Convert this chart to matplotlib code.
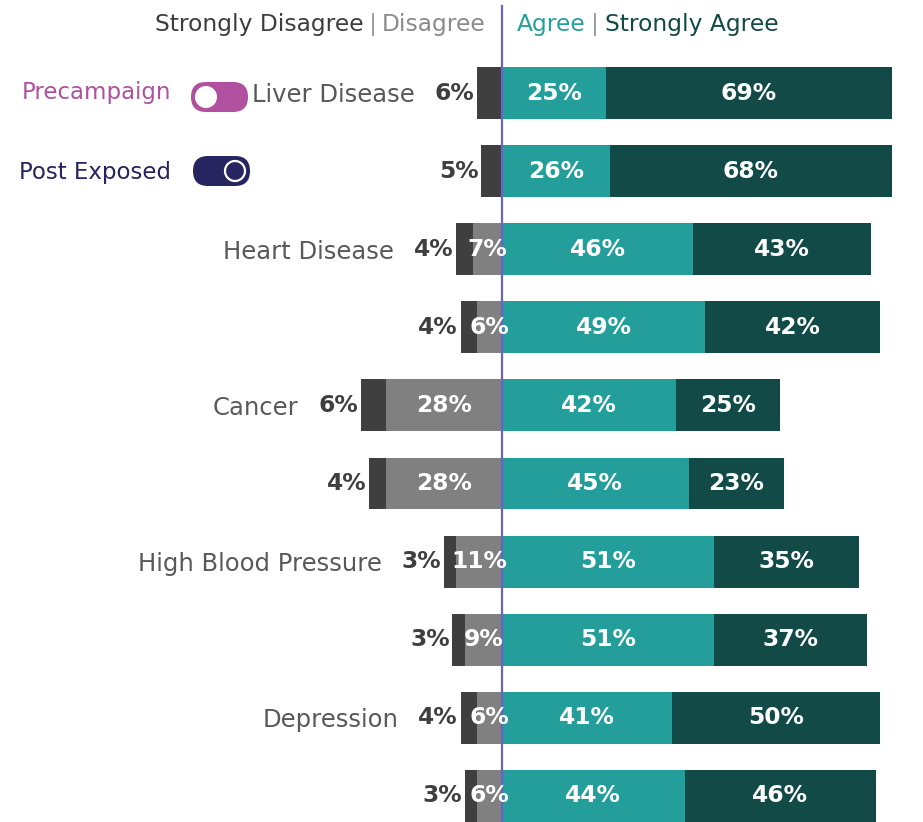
import matplotlib.pyplot as plt
from matplotlib.patches import FancyBboxPatch, Circle

plt.rcParams['font.family'] = ['DejaVu Sans']

# data: two rows per topic (precampaign, post exposed)
categories = ["Liver Disease", "Heart Disease", "Cancer", "High Blood Pressure", "Depression"]
groups = ["Precampaign", "Post Exposed"]
strongly_disagree = [6, 5, 4, 4, 6, 4, 3, 3, 4, 3]
disagree = [0, 0, 7, 6, 28, 28, 11, 9, 6, 6]
agree = [25, 26, 46, 49, 42, 45, 51, 51, 41, 44]
strongly_agree = [69, 68, 43, 42, 25, 23, 35, 37, 50, 46]

c_sd = '#3f3f3f'
c_d = '#808080'
c_a = '#239e9b'
c_sa = '#124a47'
c_pre = '#b0509e'
c_post = '#262560'
c_line = '#6a62c4'

W, H = 923, 822
fig = plt.figure(figsize=(W / 100, H / 100), dpi=100)
ax = fig.add_axes([0, 0, 1, 1])

# scale: 4.15 px per percent, zero at x=502px; rows 78 px apart starting at 93px
ppu = 4.15
x0 = 502
row_h = 78.1
ax.set_xlim(-x0 / ppu, (W - x0) / ppu)
ax.set_ylim((H - 93) / row_h, -93 / row_h)
ax.axis('off')

y = list(range(len(agree)))
bh = 0.665
left_sd = [-(s + d) for s, d in zip(strongly_disagree, disagree)]
left_d = [-d for d in disagree]

ax.barh(y, strongly_disagree, left=left_sd, height=bh, color=c_sd)
ax.barh(y, disagree, left=left_d, height=bh, color=c_d)
ax.barh(y, agree, left=0, height=bh, color=c_a)
ax.barh(y, strongly_agree, left=agree, height=bh, color=c_sa)

ax.axvline(0, ymin=0, ymax=1 - 6 / H, color=c_line, lw=1.6, zorder=5)

lab = dict(fontsize=16.8, fontweight='bold', va='center')
for i in y:
    sd, d, a, sa = strongly_disagree[i], disagree[i], agree[i], strongly_agree[i]
    ax.text(-(sd + d) - 0.6, i, f"{sd}%", ha='right', color=c_sd, **lab)
    if d > 0:
        ax.text(-d / 2, i, f"{d}%", ha='center', color='white', zorder=6, **lab)
    ax.text(a / 2, i, f"{a}%", ha='center', color='white', **lab)
    ax.text(a + sa / 2, i, f"{sa}%", ha='center', color='white', **lab)

for k, cat in enumerate(categories):
    i = 2 * k
    ax.text(-(strongly_disagree[i] + disagree[i]) - 15, i + 0.03, cat, ha='right', va='center',
            fontsize=17.5, color='#595959')

# decoration layer in pixel units
deco = fig.add_axes([0, 0, 1, 1])
deco.set_xlim(0, W)
deco.set_ylim(H, 0)
deco.axis('off')
deco.patch.set_alpha(0)

hs = 16.8
t = deco.text(486, 25, "Disagree", color='#8a8a8a', ha='right', va='center', fontsize=hs)
t = deco.annotate("|", xy=(0, 0), xycoords=t, xytext=(-4, 0), textcoords='offset points',
                  ha='right', va='bottom', color='#a0a0a0', fontsize=hs)
deco.annotate("Strongly Disagree", xy=(0, 0), xycoords=t, xytext=(-4, 0), textcoords='offset points',
              ha='right', va='bottom', color='#3d3d3d', fontsize=hs)
t = deco.text(517, 25, "Agree", color='#27a09c', ha='left', va='center', fontsize=hs)
t = deco.annotate("|", xy=(1, 0), xycoords=t, xytext=(4, 0), textcoords='offset points',
                  ha='left', va='bottom', color='#a0a0a0', fontsize=hs)
deco.annotate("Strongly Agree", xy=(1, 0), xycoords=t, xytext=(4, 0), textcoords='offset points',
              ha='left', va='bottom', color=c_sa, fontsize=hs)

# legend toggles
deco.text(171, 93, groups[0], ha='right', va='center', fontsize=16.5, color=c_pre)
deco.text(171, 172, groups[1], ha='right', va='center', fontsize=16.5, color=c_post)
deco.add_patch(FancyBboxPatch((191, 82), 57, 30, boxstyle="round,pad=0,rounding_size=15",
                              fc=c_pre, ec='none'))
deco.add_patch(Circle((206, 97), 11, fc='white', ec='none'))
deco.add_patch(FancyBboxPatch((193, 156), 57, 30, boxstyle="round,pad=0,rounding_size=15",
                              fc=c_post, ec='none'))
deco.add_patch(Circle((235, 171), 10, fc=c_post, ec='white', lw=1.6))

fig.savefig('out.png', dpi=100)
